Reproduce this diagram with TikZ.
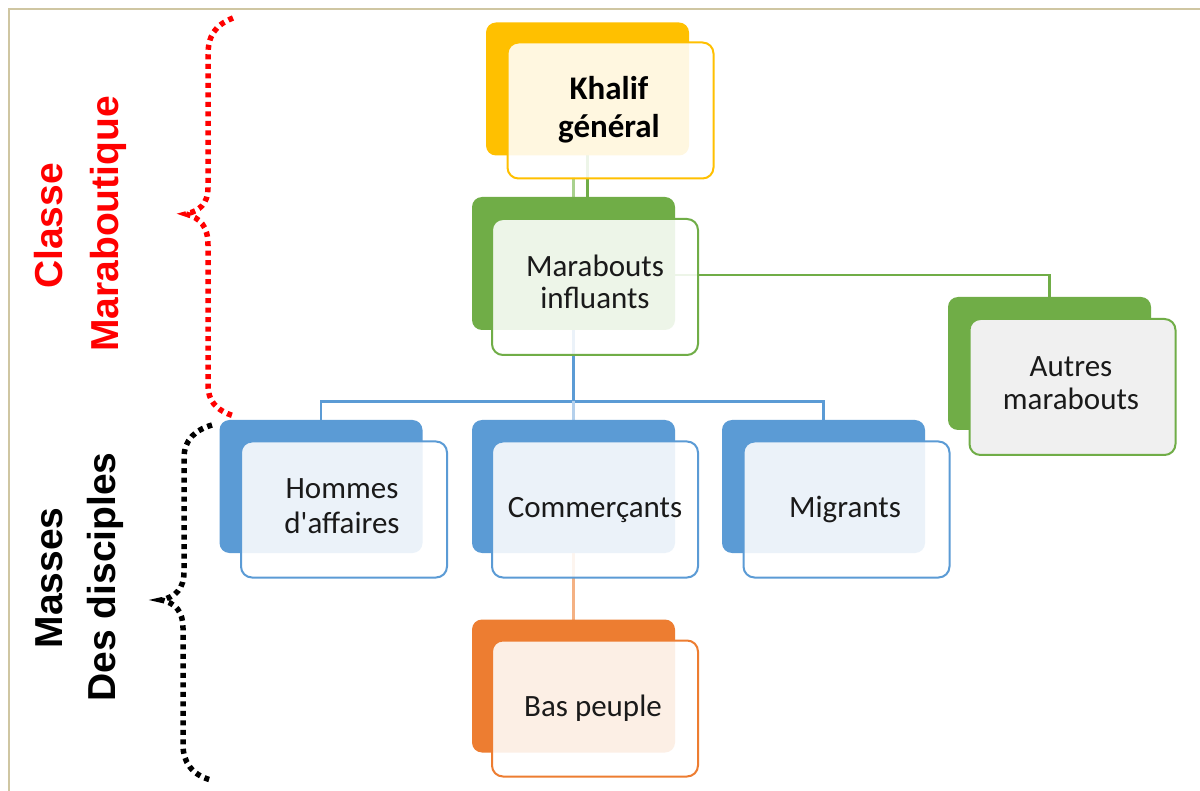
\documentclass[tikz,border=0pt]{standalone}
\usepackage{fontspec}
\setmainfont{Carlito}
\newfontfamily\arialf{Liberation Sans}
\definecolor{cy}{HTML}{FFC000}
\definecolor{cg}{HTML}{70AD47}
\definecolor{cb}{HTML}{5B9BD5}
\definecolor{co}{HTML}{ED7D31}
\definecolor{clb}{HTML}{B4D0EC}
\definecolor{clg}{HTML}{A9D18E}
\definecolor{clo}{HTML}{F4B183}
\definecolor{framec}{HTML}{CFC6A2}
\definecolor{grayfill}{HTML}{F0F0F0}
\definecolor{txtc}{HTML}{1A1A1A}
\begin{document}
\begin{tikzpicture}[x=1pt,y=-1pt,
  backbox/.style={rounded corners=10pt, minimum width=203pt, minimum height=133pt, inner sep=0pt, outer sep=0pt},
  frontbox/.style={rounded corners=11pt, minimum width=206pt, minimum height=136pt, line width=2pt, fill=white, fill opacity=0.88, inner sep=0pt, outer sep=0pt},
  txt/.style={anchor=base, inner sep=0pt, text=txtc, font=\fontsize{31}{34}\selectfont},
  btxt/.style={anchor=base, inner sep=0pt, text=black, font=\fontsize{33}{38}\selectfont\bfseries},
  sidelbl/.style={rotate=90, anchor=base, inner sep=0pt, font=\arialf\fontsize{39}{42}\selectfont\bfseries},
  conn/.style={line width=2.2pt},
  bracedots/.style={line width=5.5pt, dash pattern=on 5pt off 4.5pt, line cap=butt}
]
\useasboundingbox (0,0) rectangle (1200,791);
\fill[white] (0,0) rectangle (1200,791);
\draw[framec, line width=2pt] (8.5,791) -- (8.5,9.5) -- (1200,9.5);

\coordinate (hub) at (573.5,401.5);

% back box positions
\path
  node[backbox] (kb) at (587.5,89) {}
  node[backbox] (mb) at (573.5,263.5) {}
  node[backbox] (ab) at (1049.5,363.5) {}
  node[backbox] (hb) at (321,486.5) {}
  node[backbox] (cmb) at (573.5,486.5) {}
  node[backbox] (gb) at (823.5,486.5) {}
  node[backbox] (bpb) at (573.5,686) {};

% connectors
\draw[cg, conn] (kb.south) -- (kb.south |- mb.north);
\draw[clg, line width=2.8pt] (mb.north) -- ++(0,-20);
\draw[cg, conn] (mb.east) ++(0,11.5) -| (ab.north);
\draw[cb, line width=3pt] (mb.south) -- (hub);
\draw[cb, conn] (hb.north) |- (hub) -| (gb.north);
\draw[clb, line width=2.8pt] (hub) -- (cmb.north);
\draw[clo, line width=2.5pt] (cmb.south) -- (bpb.north);

% back boxes filled
\fill[cy, rounded corners=10pt] (kb.north west) rectangle (kb.south east);
\fill[cg, rounded corners=10pt] (mb.north west) rectangle (mb.south east);
\fill[cg, rounded corners=10pt] (ab.north west) rectangle (ab.south east);
\fill[cb, rounded corners=10pt] (hb.north west) rectangle (hb.south east);
\fill[cb, rounded corners=10pt] (cmb.north west) rectangle (cmb.south east);
\fill[cb, rounded corners=10pt] (gb.north west) rectangle (gb.south east);
\fill[co, rounded corners=10pt] (bpb.north west) rectangle (bpb.south east);

% front boxes
\node[frontbox, draw=cy] (kf) at (610.5,110.5) {};
\node[frontbox, draw=cg] (mf) at (595,287) {};
\node[frontbox, draw=cg, fill=grayfill, fill opacity=1] (af) at (1072.5,387) {};
\node[frontbox, draw=cb] (hf) at (344,509.5) {};
\node[frontbox, draw=cb] (cmf) at (595,509.5) {};
\node[frontbox, draw=cb] (gf) at (846.5,509.5) {};
\node[frontbox, draw=co] (bpf) at (595,708.5) {};

% texts
\node[btxt] (t1) at (609,100) {Khalif};
\node[btxt] (t2) at (609,138) {général};
\node[txt] (t3) at (595,277) {Marabouts};
\node[txt] (t4) at (595,309) {influants};
\node[txt] (t5) at (1071,377) {Autres};
\node[txt] (t6) at (1071,410) {marabouts};
\node[txt] (t7) at (342,499) {Hommes};
\node[txt] (t8) at (342,533) {d\textquotesingle affaires};
\node[txt] (t9) at (595,517) {Commerçants};
\node[txt] (t10) at (845,517) {Migrants};
\node[txt] (t11) at (593,716) {Bas peuple};

% braces
\draw[red, bracedots] (233,18) .. controls (215,25) and (208,36) .. (208,55)
  -- (208,188) .. controls (208,203) and (200,211) .. (186,214)
  .. controls (200,218) and (208,226) .. (208,245)
  -- (208,385) .. controls (208,400) and (215,410) .. (234,416);
\draw[black, bracedots] (212,425) .. controls (195,430) and (184,440) .. (184,458)
  -- (184,572) .. controls (184,588) and (176,597) .. (161,600)
  .. controls (176,603) and (183,612) .. (183,628)
  -- (183,745) .. controls (183,762) and (192,775) .. (211,780);

% side labels
\node[sidelbl, text=red] (l1) at (62,226) {Classe};
\node[sidelbl, text=red] (l2) at (118,224) {Maraboutique};
\node[sidelbl, text=black] (l3) at (62,578) {Masses};
\node[sidelbl, text=black] (l4) at (115,577) {Des disciples};
\end{tikzpicture}
\end{document}
